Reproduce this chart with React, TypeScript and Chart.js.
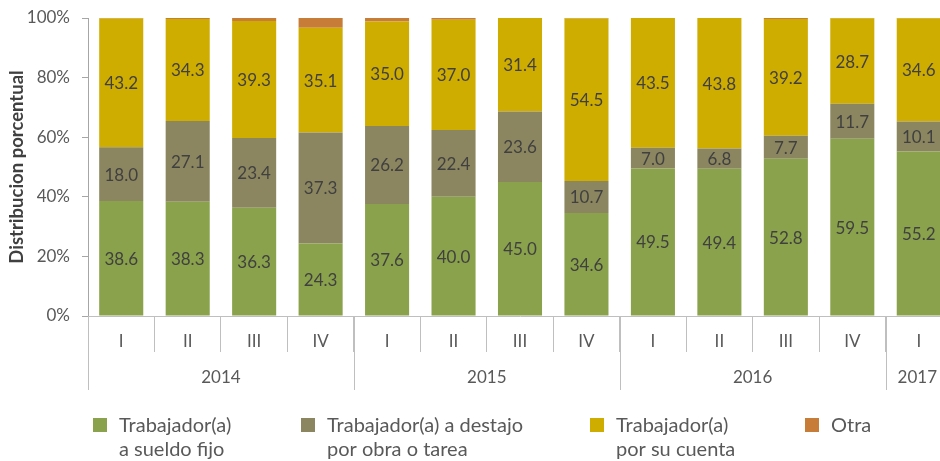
import React, { useEffect, useRef } from "react";
import { Chart, registerables } from "chart.js";

Chart.register(...registerables);

const quarters = ["I", "II", "III", "IV", "I", "II", "III", "IV", "I", "II", "III", "IV", "I"];
const years = ["2014", "2015", "2016", "2017"];
const yearSpans = [4, 4, 4, 1];
const sueldoFijo = [38.6, 38.3, 36.3, 24.3, 37.6, 40.0, 45.0, 34.6, 49.5, 49.4, 52.8, 59.5, 55.2];
const destajo = [18.0, 27.1, 23.4, 37.3, 26.2, 22.4, 23.6, 10.7, 7.0, 6.8, 7.7, 11.7, 10.1];
const porSuCuenta = [43.2, 34.3, 39.3, 35.1, 35.0, 37.0, 31.4, 54.5, 43.5, 43.8, 39.2, 28.7, 34.6];
const otra = [0.2, 0.3, 1.0, 3.3, 1.2, 0.6, 0.0, 0.2, 0.0, 0.0, 0.3, 0.1, 0.1];
const seriesLabels = [
  ["Trabajador(a)", "a sueldo fijo"],
  ["Trabajador(a) a destajo", "por obra o tarea"],
  ["Trabajador(a)", "por su cuenta"],
  ["Otra"],
];
const seriesColors = ["#8AA24B", "#8B8660", "#CFAC00", "#C77C37"];
const labeledSeries = [true, true, true, false];
const legendX = [93, 301, 590, 805];

const FONT = "Lato";
const GRID = "#BFBFBF";
const TEXT = "#595959";

const segLabels = {
  id: "segLabels",
  afterDatasetsDraw(chart: any) {
    const ctx = chart.ctx;
    ctx.save();
    ctx.font = `17px ${FONT}`;
    ctx.fillStyle = "#404040";
    ctx.textAlign = "center";
    ctx.textBaseline = "middle";
    chart.data.datasets.forEach((ds: any, di: number) => {
      if (!labeledSeries[di]) return;
      const meta = chart.getDatasetMeta(di);
      meta.data.forEach((bar: any, i: number) => {
        const p = bar.getProps(["x", "y", "base"], true);
        ctx.fillText(Number(ds.data[i]).toFixed(1), p.x, (p.y + p.base) / 2 + 1);
      });
    });
    ctx.restore();
  },
};

const groupAxis = {
  id: "groupAxis",
  afterDraw(chart: any) {
    const ctx = chart.ctx;
    const xs = chart.scales.x;
    ctx.save();
    ctx.strokeStyle = GRID;
    ctx.lineWidth = 1;
    ctx.font = `17px ${FONT}`;
    ctx.fillStyle = TEXT;
    ctx.textAlign = "center";
    ctx.textBaseline = "middle";
    let start = 0;
    years.forEach((yr, k) => {
      const n = yearSpans[k];
      const left = xs.getPixelForValue(start - 0.5);
      const right = xs.getPixelForValue(start + n - 0.5);
      const lx = Math.round(left) + 0.5;
      ctx.beginPath();
      ctx.moveTo(lx, xs.top);
      ctx.lineTo(lx, xs.top + 74);
      ctx.stroke();
      const w = ctx.measureText(yr).width;
      let cx = (left + right) / 2;
      cx = Math.min(cx, 937 - w / 2);
      ctx.fillText(yr, cx, xs.top + 62);
      start += n;
    });
    // legend
    ctx.textAlign = "left";
    ctx.textBaseline = "alphabetic";
    ctx.font = `20px ${FONT}`;
    seriesLabels.forEach((lines, i) => {
      const x = legendX[i];
      ctx.fillStyle = seriesColors[i];
      ctx.fillRect(x, 418, 14, 14);
      ctx.fillStyle = TEXT;
      lines.forEach((t, j) => {
        ctx.fillText(t, x + 26, 432 + j * 24);
      });
    });
    ctx.restore();
  },
};

export default function App() {
  const ref = useRef<HTMLCanvasElement>(null);
  useEffect(() => {
    if (!ref.current) return;
    document.documentElement.style.overflow = "hidden";
    document.body.style.overflow = "hidden";
    const data = [sueldoFijo, destajo, porSuCuenta, otra];
    const chart = new Chart(ref.current, {
      type: "bar",
      data: {
        labels: quarters,
        datasets: data.map((d, i) => ({
          label: seriesLabels[i].join(" "),
          data: d,
          backgroundColor: seriesColors[i],
          borderWidth: 0,
          barPercentage: 0.663,
          categoryPercentage: 1,
        })),
      },
      options: {
        responsive: false,
        animation: false,
        devicePixelRatio: 1,
        layout: { padding: { left: 0, top: 18, right: 8, bottom: 0 } },
        plugins: { legend: { display: false }, tooltip: { enabled: false } },
        scales: {
          x: {
            stacked: true,
            grid: { display: true, drawOnChartArea: false, offset: true, tickLength: 36, color: GRID },
            border: { display: true, color: GRID },
            ticks: { color: TEXT, font: { family: FONT, size: 17 }, padding: -21, maxRotation: 0, autoSkip: false },
            afterFit: (s: any) => {
              s.height = 145;
            },
          },
          y: {
            stacked: true,
            min: 0,
            max: 100,
            ticks: {
              stepSize: 20,
              callback: (v: any) => v + "%",
              color: TEXT,
              font: { family: FONT, size: 17 },
              padding: 12,
            },
            grid: { drawOnChartArea: false, drawTicks: true, tickLength: 6, color: "#A6A6A6" },
            border: { display: true, color: "#A6A6A6" },
            title: {
              display: true,
              text: "Distribucion porcentual",
              color: "#404040",
              font: { family: FONT, size: 18.5, weight: "bold" },
              padding: { top: 6, bottom: 0 },
            },
            afterFit: (s: any) => {
              s.width = 88;
              s.paddingTop = 4;
              s.paddingBottom = 4;
            },
          },
        },
      },
      plugins: [segLabels, groupAxis],
    });
    return () => chart.destroy();
  }, []);
  return (
    <div style={{ position: "fixed", left: 0, top: 0, width: 940, height: 461, overflow: "hidden" }}>
      <canvas ref={ref} width={960} height={461} style={{ display: "block" }} />
    </div>
  );
}
